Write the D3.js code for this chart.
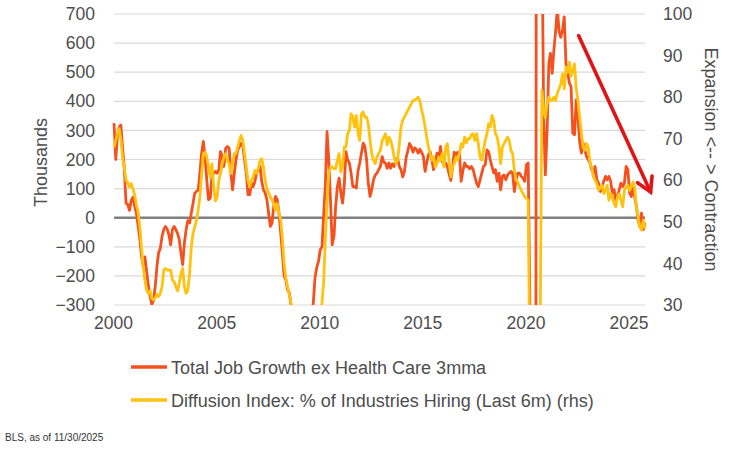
<!DOCTYPE html>
<html>
<head>
<meta charset="utf-8">
<script src="https://cdn.jsdelivr.net/npm/d3@7.9.0/dist/d3.min.js"></script>
<style>
  body { margin: 0; background: #fff; }
  svg { display: block; font-family: "Liberation Sans", Arial, sans-serif; }
</style>
</head>
<body>
<svg id="chart" width="743" height="449"></svg>
<script>
// monthly data, Jan 2000 .. Oct 2025
const firstMonth = new Date(2000, 0, 1);

// Total job growth ex health care, 3mma (thousands, lhs)
const jobGrowth = [
  325, 200, 280, 310, 319, 240, 170, 50, 45, 25, 60, 70,            // 2000
  40, 15, -25, -70, -130, -165, -135, -185, -235, -270, -298, -285, // 2001
  -235, -165, -120, -105, -64, -40, -30, -40, -60, -93, -41, -30,   // 2002
  -41, -55, -75, -121, -161, -87, -41, -10, -18, 16, 50, 85,        // 2003
  90, 96, 153, 222, 262, 210, 130, 62, 67, 142, 153, 159,           // 2004
  153, 165, 227, 210, 176, 239, 245, 239, 153, 96, 153, 199,        // 2005
  233, 245, 256, 245, 199, 153, 79, 79, 119, 107, 125, 153,         // 2006
  165, 176, 125, 96, 85, 62, 16, -30, -18, 39, 73, 62,              // 2007
  16, -53, -121, -201, -213, -247, -258, -300, -420, -520, -600, -680, // 2008
  -750, -780, -750, -650, -480, -420, -380, -340, -290, -205, -170, -150, // 2009
  -110, -100, 5, 110, 296, 199, 62, -93, -64, 39, 107, 136,         // 2010
  85, 50, 107, 227, 199, 188, 153, 107, 107, 102, 160, 188,         // 2011
  222, 256, 245, 199, 119, 73, 96, 130, 147, 153, 165, 176,         // 2012
  210, 190, 188, 170, 188, 170, 185, 176, 199, 205, 176, 165,       // 2013
  140, 160, 205, 230, 255, 245, 225, 240, 235, 222, 235, 225,       // 2014
  210, 159, 188, 216, 227, 199, 165, 188, 222, 199, 245, 195,       // 2015
  180, 188, 176, 150, 128, 170, 225, 215, 225, 220, 125, 160,       // 2016
  188, 176, 176, 168, 176, 165, 142, 119, 107, 130, 153, 176,       // 2017
  182, 233, 227, 199, 176, 153, 165, 125, 153, 96, 142, 147,        // 2018
  130, 147, 153, 159, 153, 90, 130, 153, 153, 142, 136, 125,        // 2019
  182, 188, -270, -6700, -5900, -4000, 2800, 2300, 1300, 1000, 350, 147, // 2020
  300, 530, 565, 496, 576, 640, 720, 640, 620, 645, 690, 530,       // 2021
  496, 462, 450, 290, 285, 405, 347, 260, 222, 256, 233, 210,       // 2022
  199, 188, 165, 153, 176, 130, 119, 90, 107, 125, 142, 130,        // 2023
  142, 125, 85, 96, 62, 73, 96, 119, 107, 119, 176, 165,            // 2024
  85, 73, 107, 73, 40, -7, -30, 16, -41, -18                        // 2025
];

// Diffusion index: % of industries hiring, last 6m (rhs)
const diffusion = [
  68, 69.6, 71.2, 72.4, 70, 65.5, 63, 60, 59.5, 58.4, 59.2, 58,       // 2000
  56.5, 54, 52.5, 49, 44, 39.2, 36, 33.6, 32.8, 33.4, 31.6, 31.2,     // 2001
  31.8, 32.6, 32, 32.8, 34.4, 38.4, 38.8, 38.4, 38.4, 38.4, 36, 35.6, // 2002
  34.4, 33.4, 35.2, 37.6, 38.8, 34.4, 32.8, 33.6, 37.6, 44, 47.2, 48.8, // 2003
  50.4, 53, 56, 61.6, 66.4, 66.8, 65.6, 63.2, 60.8, 64, 58.5, 55,     // 2004
  56, 60, 61.6, 64, 65.6, 66.4, 64.8, 64, 61.6, 64, 66.4, 66.4,       // 2005
  68, 69.6, 70.8, 69.6, 66.4, 63.2, 60, 58.4, 60, 60.8, 62.4, 61.6,   // 2006
  62.8, 64.8, 65.2, 63.2, 60, 58, 57, 56, 55.2, 54.4, 52.8, 54.4,     // 2007
  52, 50.4, 46, 40, 36.5, 34.4, 32.5, 30.5, 28, 25, 21, 17,           // 2008
  14, 12, 10, 10, 11, 12, 14, 16, 19, 22, 25, 27,                     // 2009
  28.5, 30.5, 35.2, 45.6, 55.2, 61.6, 63.2, 63.2, 62.8, 62.8, 64.8, 66.4, // 2010
  62, 63.2, 68, 68, 71.2, 72, 76, 75.2, 72.8, 75.6, 71.2, 69.6,       // 2011
  76, 76.4, 75.2, 75.2, 73.6, 69.6, 66.4, 64.8, 64, 65.6, 66.4, 67.2, // 2012
  69.5, 70.4, 71.2, 68.5, 70.4, 69.6, 68, 65.6, 64, 64.8, 68.5, 72.8, // 2013
  74.5, 75.2, 76, 76.8, 77.6, 78.4, 79.2, 79.2, 79.6, 80, 79, 77,     // 2014
  75.2, 72.8, 70.4, 68, 66.4, 64.8, 65.6, 63.2, 64, 65.6, 64.8, 66.4, // 2015
  63.2, 68, 68.8, 64.8, 60.8, 63.2, 64, 65.6, 64.8, 66.4, 68.8, 68,   // 2016
  70.4, 69, 70, 70, 71, 71.2, 69.6, 71.2, 68.8, 65.6, 64.8, 67.2,     // 2017
  69.6, 71.2, 73.6, 72.8, 75.6, 74.4, 71.2, 70.4, 68, 64, 68, 68.8,   // 2018
  69.6, 70.4, 69.6, 67.2, 66.4, 62.4, 60, 59.6, 58.4, 57.6, 56.8, 56, // 2019
  55.6, 55.2, 15, 3, 3, 5, 10, 18, 25, 81.6, 77, 75,                  // 2020
  78.4, 80, 79.2, 79.2, 80, 79.2, 81, 82, 83.2, 85.6, 82, 87.2,       // 2021
  86, 88.4, 85, 86.5, 88, 82, 79.2, 75.2, 71.2, 68, 67.2, 68.8,       // 2022
  68, 64, 63.2, 60.8, 60, 59.2, 57.6, 58.4, 58.8, 56.8, 57.6, 58.8,   // 2023
  55.2, 56.8, 56, 54.4, 53.6, 56, 56.8, 55.2, 53.6, 57.6, 58.4, 58.8, // 2024
  57.6, 58.4, 59.6, 58.4, 53.6, 51.2, 48.8, 48, 50.4, 48.4            // 2025
];

const leftTicks = [-300, -200, -100, 0, 100, 200, 300, 400, 500, 600, 700];
const rightTicks = [30, 40, 50, 60, 70, 80, 90, 100];
const yearTicks = [2000, 2005, 2010, 2015, 2020, 2025];
const seriesNames = [
  'Total Job Growth ex Health Care 3mma',
  'Diffusion Index: % of Industries Hiring (Last 6m) (rhs)'
];
const seriesColors = ['#f4511e', '#ffc20e'];
// trend arrow, in chart units (date, rhs value)
const arrowFrom = { date: new Date(2022, 6, 12), value: 94.8 };
const arrowTo = { date: new Date(2026, 0, 8), value: 57.2 };

const plot = { left: 114, right: 645, top: 14, bottom: 305 };
const textColor = '#4d4d4d';
const tickFont = 17.5;

const svg = d3.select('#chart');

const monthDate = (i) => d3.timeMonth.offset(firstMonth, i);
const lastDate = monthDate(jobGrowth.length - 1);

const x = d3.scaleTime().domain([firstMonth, lastDate]).range([plot.left, plot.right]);
const yL = d3.scaleLinear().domain([-300, 700]).range([plot.bottom, plot.top]);
const yR = d3.scaleLinear().domain([30, 100]).range([plot.bottom, plot.top]);

// gridlines
svg.append('g')
  .selectAll('line')
  .data(leftTicks.filter(d => d !== 0))
  .join('line')
  .attr('x1', plot.left).attr('x2', plot.right)
  .attr('y1', d => yL(d)).attr('y2', d => yL(d))
  .attr('stroke', '#d9d9d9').attr('stroke-width', 1.2);

// zero line
svg.append('line')
  .attr('x1', plot.left).attr('x2', plot.right)
  .attr('y1', yL(0)).attr('y2', yL(0))
  .attr('stroke', '#808080').attr('stroke-width', 2.6);

function styleAxis(g) {
  g.select('.domain').remove();
  g.selectAll('text')
    .attr('font-size', tickFont).attr('fill', textColor)
    .attr('font-family', '"Liberation Sans", Arial, sans-serif');
}

// left axis
svg.append('g')
  .attr('transform', `translate(${plot.left - 19},0)`)
  .call(d3.axisLeft(yL).tickValues(leftTicks).tickSize(0).tickPadding(0))
  .call(styleAxis);

// right axis
svg.append('g')
  .attr('transform', `translate(${plot.right + 18},0)`)
  .call(d3.axisRight(yR).tickValues(rightTicks).tickSize(0).tickPadding(0))
  .call(styleAxis);

// bottom axis
svg.append('g')
  .attr('transform', `translate(-1,${plot.bottom + 12})`)
  .call(d3.axisBottom(x)
    .tickValues(yearTicks.map(y => new Date(y, 0, 1)))
    .tickFormat(d3.timeFormat('%Y'))
    .tickSize(0).tickPadding(0))
  .call(styleAxis);

// axis titles
svg.append('text')
  .attr('transform', `translate(47,${(plot.top + plot.bottom) / 2 + 3}) rotate(-90)`)
  .attr('text-anchor', 'middle')
  .attr('font-size', 18).attr('fill', textColor)
  .text('Thousands');

svg.append('text')
  .attr('transform', `translate(705,${(plot.top + plot.bottom) / 2}) rotate(90)`)
  .attr('text-anchor', 'middle')
  .attr('font-size', 18).attr('fill', textColor)
  .text('Expansion <-- > Contraction');

// lines
svg.append('clipPath').attr('id', 'clip')
  .append('rect')
  .attr('x', plot.left - 2).attr('y', plot.top)
  .attr('width', plot.right - plot.left + 6).attr('height', plot.bottom - plot.top);

const lineL = d3.line().x((d, i) => x(monthDate(i))).y(d => yL(d));
const lineR = d3.line().x((d, i) => x(monthDate(i))).y(d => yR(d));

const gLines = svg.append('g').attr('clip-path', 'url(#clip)');
gLines.append('path')
  .datum(jobGrowth)
  .attr('d', lineL)
  .attr('fill', 'none')
  .attr('stroke', seriesColors[0])
  .attr('stroke-width', 2.8)
  .attr('stroke-linejoin', 'round');
gLines.append('path')
  .datum(diffusion)
  .attr('d', lineR)
  .attr('fill', 'none')
  .attr('stroke', seriesColors[1])
  .attr('stroke-width', 2.8)
  .attr('stroke-linejoin', 'round');

// trend arrow
const ax1 = x(arrowFrom.date), ay1 = yR(arrowFrom.value);
const ax2 = x(arrowTo.date), ay2 = yR(arrowTo.value);
const ang = Math.atan2(ay1 - ay2, ax1 - ax2);
const headLen = 16, spread = Math.PI / 6;
const wing = (s) => [ax2 + headLen * Math.cos(ang + s), ay2 + headLen * Math.sin(ang + s)];
const arrowPts = [wing(spread), [ax2, ay2], wing(-spread)];
svg.append('line')
  .attr('x1', ax1).attr('y1', ay1).attr('x2', ax2).attr('y2', ay2)
  .attr('stroke', '#e01414').attr('stroke-width', 3.6).attr('stroke-linecap', 'round');
svg.append('path')
  .attr('d', d3.line()(arrowPts))
  .attr('fill', 'none')
  .attr('stroke', '#e01414').attr('stroke-width', 3.6)
  .attr('stroke-linecap', 'round').attr('stroke-linejoin', 'miter');

// legend
const legend = svg.append('g');
seriesNames.forEach((name, i) => {
  const ly = 367 + i * 33;
  legend.append('line')
    .attr('x1', 131).attr('x2', 167)
    .attr('y1', ly).attr('y2', ly)
    .attr('stroke', seriesColors[i]).attr('stroke-width', 3.6);
  legend.append('text')
    .attr('x', 171).attr('y', ly + 6.5)
    .attr('font-size', 18).attr('fill', textColor)
    .text(name);
});

// source
svg.append('text')
  .attr('x', 5).attr('y', 441)
  .attr('font-size', 10).attr('fill', '#333')
  .text('BLS, as of 11/30/2025');
</script>
</body>
</html>
